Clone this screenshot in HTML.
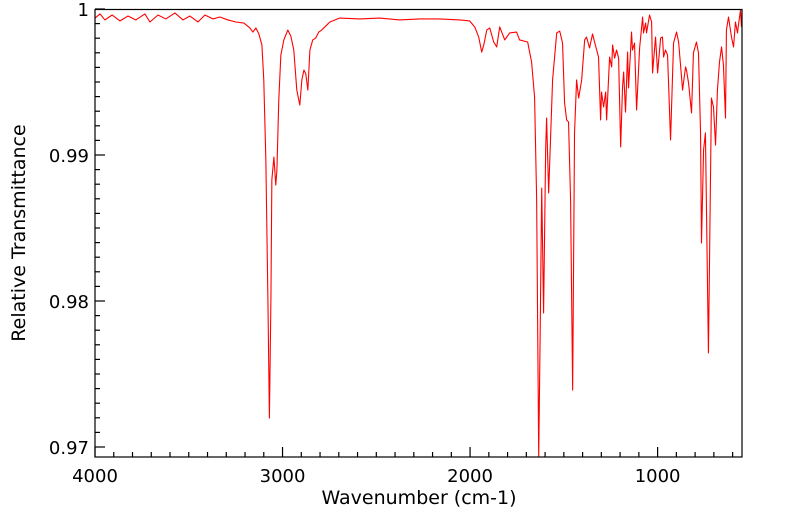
<!DOCTYPE html>
<html><head><meta charset="utf-8">
<style>
html,body{margin:0;padding:0;background:#fff;}
svg{display:block;font-family:"DejaVu Sans","Liberation Sans",sans-serif;}
</style></head>
<body>
<svg id="chart" width="799" height="516" viewBox="0 0 799 516" xmlns="http://www.w3.org/2000/svg">
  <g id="grid-ticks"></g>
  <path id="spectrum" fill="none" stroke="#ff0000" stroke-width="1.1" stroke-linejoin="round"></path>
  <rect x="95" y="9.5" width="647" height="447.5" fill="none" stroke="#000" stroke-width="1.2"></rect>
  <g id="labels" font-size="18" fill="#000"></g>
  <text x="419" y="504" font-size="19" text-anchor="middle">Wavenumber (cm-1)</text>
  <text transform="translate(25,233) rotate(-90)" font-size="19" text-anchor="middle">Relative Transmittance</text>
</svg>
<script>
const wavenumbers = [4000,3973,3947,3909,3867,3824,3782,3734,3707,3664,3622,3574,3531,3494,3451,3414,3371,3334,3291,3249,3206,3174,3158,3142,3126,3110,3100,3089,3078,3070,3062,3057,3046,3036,3030,3020,3009,2993,2972,2956,2940,2924,2908,2897,2886,2876,2865,2854,2839,2823,2807,2791,2769,2748,2721,2695,2588,2482,2375,2268,2162,2055,2002,1975,1954,1938,1927,1911,1895,1874,1858,
1842,1815,1789,1752,1736,1693,1672,1656,1645,1634,1626,1618,1608,1597,1592,1581,1560,1538,1522,1507,1496,1485,1475,1464,1453,1443,1432,1421,1405,1389,1379,1363,1347,1325,1315,1304,1299,1288,1277,1272,1256,1245,1240,1229,1219,1208,1197,1187,1181,1171,1160,1155,1139,1134,1123,1112,1096,1080,1075,1064,1059,1043,1032,1027,1011,1000,984,974,968,958,947,931,915,899,888,872,867,851,846,835,819,809,793,782,771,766,755,745,729,713,702,691,681,670,659,649,638,633,622,606,595,585,574,569,558,553];
const transmittance = [0.99938,0.99966,0.99925,0.99959,0.99918,0.99952,0.99925,0.99966,0.99911,0.99959,0.99932,0.99973,0.99925,0.99952,0.99911,0.99959,0.99932,0.99945,0.99925,0.99911,0.99904,0.9987,0.99842,0.9987,0.99829,0.99753,0.99514,0.98966,0.98007,0.97198,0.98007,0.98829,0.98986,0.98794,0.98897,0.99377,0.99685,0.99788,0.99856,0.99815,0.99719,0.99445,0.99342,0.99514,0.99582,0.99555,0.99445,0.99719,0.99788,0.99801,0.99842,0.99856,0.99884,0.99911,0.99925,0.99938,0.99932,0.99938,0.99925,0.99932,0.99932,0.99925,0.99918,0.99877,0.99808,0.99705,0.99753,0.99856,0.9987,0.99774,0.9974,
0.99877,0.99788,0.99836,0.99842,0.99788,0.99774,0.99637,0.99397,0.98692,0.96931,0.97801,0.98774,0.97918,0.99034,0.99253,0.9874,0.99514,0.99836,0.99849,0.99767,0.99356,0.9924,0.99226,0.98692,0.9739,0.99151,0.99514,0.9939,0.99514,0.99788,0.99808,0.99733,0.99829,0.99719,0.99671,0.9924,0.99431,0.99329,0.99431,0.9924,0.99671,0.99603,0.99753,0.99664,0.99719,0.99664,0.99055,0.99466,0.99568,0.99294,0.99705,0.99459,0.99842,0.99719,0.99767,0.99308,0.99733,0.99945,0.99836,0.99904,0.99836,0.99959,0.99911,0.99562,0.99808,0.99562,0.99801,0.99808,0.99671,0.99719,0.99685,0.99103,0.99767,0.99842,0.99774,0.99527,0.99445,0.99603,0.99582,0.99493,0.99288,0.99699,0.99774,0.99699,0.99151,0.98397,0.99034,0.99151,0.97644,0.9939,0.99329,0.99068,0.99445,0.99637,0.9974,0.99616,0.99253,0.99856,0.99945,0.99808,0.9974,0.99911,0.99836,0.9989,0.99993,0.99877];
const xTickValues = [4000,3000,2000,1000];
const xTickLabels = ["4000","3000","2000","1000"];
const yTickValues = [1,0.99,0.98,0.97];
const yTickLabels = ["1","0.99","0.98","0.97"];

const L=95,R=742,T=9,B=457;
const xMax=4000,xMin=550,yTop=1.0,yPerPx=0.01/146;
function sx(w){return L+(xMax-w)*(R-L)/(xMax-xMin);}
function sy(v){return T+(yTop-v)/yPerPx;}
const NS="http://www.w3.org/2000/svg";

let d="";
for(let i=0;i<wavenumbers.length;i++){
  const x=sx(wavenumbers[i]), y=Math.min(B,Math.max(T,sy(transmittance[i])));
  d+=(i?"L":"M")+x.toFixed(2)+","+y.toFixed(2);
}
document.getElementById("spectrum").setAttribute("d",d);

const tg=document.getElementById("grid-ticks");
const lg=document.getElementById("labels");
for(let w=4000;w>=600;w-=100){
  const x=sx(w), major=(w%1000===0);
  const ln=document.createElementNS(NS,"line");
  
  
  ln.setAttribute("x1",x);ln.setAttribute("x2",x);
  ln.setAttribute("y1",B);ln.setAttribute("y2",B-(major?10:5));
  ln.setAttribute("stroke","#000");ln.setAttribute("stroke-width","1.2");
  tg.appendChild(ln);
}
for(let k=0;k<=30;k++){
  const v=1-k*0.001; const y=sy(v); if(y>B) break;
  const major=(k%10===0);
  const ln=document.createElementNS(NS,"line");
  
  
  ln.setAttribute("x1",L);ln.setAttribute("x2",L+(major?10:5));
  ln.setAttribute("y1",y);ln.setAttribute("y2",y);
  ln.setAttribute("stroke","#000");ln.setAttribute("stroke-width","1.2");
  tg.appendChild(ln);
}
xTickValues.forEach((w,i)=>{
  const t=document.createElementNS(NS,"text");
  
  
  t.setAttribute("x",sx(w));t.setAttribute("y",482);
  t.setAttribute("text-anchor","middle");
  t.textContent=xTickLabels[i];lg.appendChild(t);
});
yTickValues.forEach((v,i)=>{
  const t=document.createElementNS(NS,"text");
  
  
  t.setAttribute("x",89);t.setAttribute("y",sy(v)+7);
  t.setAttribute("text-anchor","end");
  t.textContent=yTickLabels[i];lg.appendChild(t);
});
</script>
</body></html>
